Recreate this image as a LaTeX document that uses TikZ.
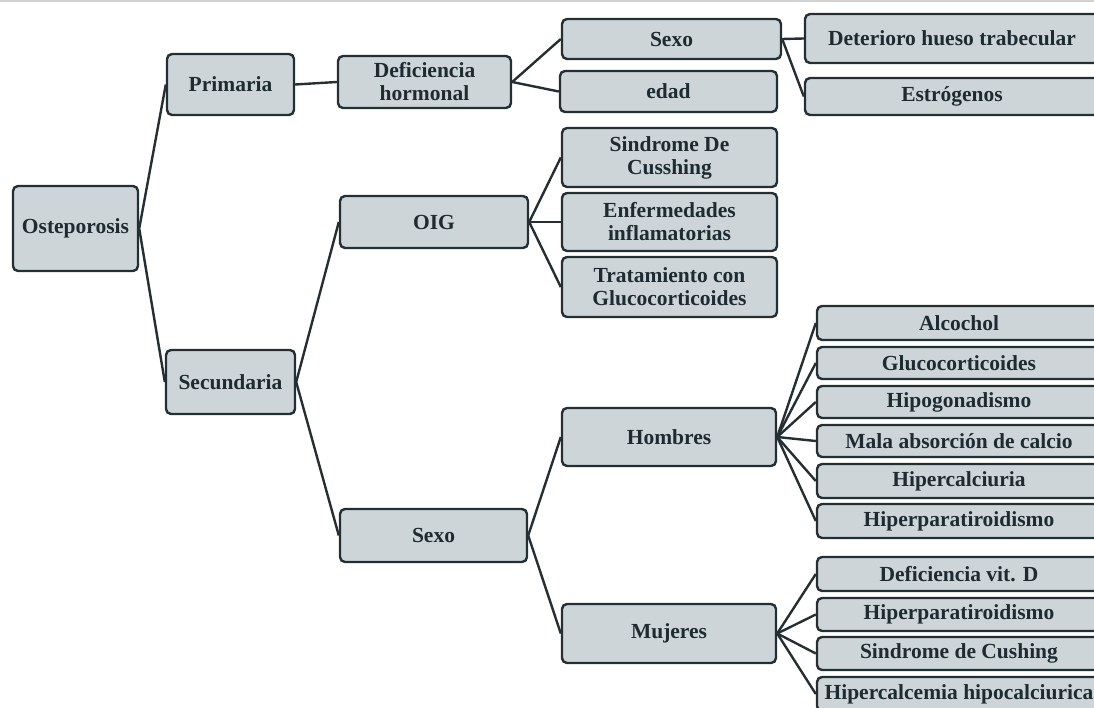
\documentclass[tikz,border=0pt]{standalone}
\usepackage{fontspec}
\setmainfont{Liberation Serif}
\definecolor{boxfill}{RGB}{205,213,216}
\definecolor{boxline}{RGB}{36,47,51}
\definecolor{boxtext}{RGB}{30,43,48}
\begin{document}
\begin{tikzpicture}
  [x=1pt,y=-1pt,
   box/.style={draw=boxline,line width=2.4pt,rounded corners=5pt,fill=boxfill,text=boxtext,
     font=\bfseries\fontsize{21.5}{23}\selectfont,align=center,inner sep=0pt},
   leaf/.style={box,minimum width=284pt,minimum height=34pt}]
  \useasboundingbox (0,0) rectangle (1094,708);
  \clip (0,0) rectangle (1094,708);
  \draw[gray!35,line width=2pt] (0,1) -- (1094,1);

  \node (ost)[box,minimum width=125pt,minimum height=85pt] at (75.5,228.5) {Osteporosis};
  \node (prim)[box,minimum width=127pt,minimum height=61pt] at (230.5,84.5) {Primaria};
  \node (sec)[box,minimum width=129pt,minimum height=64pt] at (230.5,382) {Secundaria};
  \node (defh)[box,minimum width=173pt,minimum height=52pt] at (424.5,82) {Deficiencia\\hormonal};
  \node (oig)[box,minimum width=188pt,minimum height=52pt] at (434,222) {OIG};
  \node (sexb)[box,minimum width=187pt,minimum height=53pt] at (433.5,535.5) {Sexo};
  \node (sexa)[box,minimum width=219pt,minimum height=40pt] at (671.5,39) {Sexo};
  \node (edad)[box,minimum width=217pt,minimum height=41pt] at (668.5,91.5) {edad};
  \node (sind)[box,minimum width=215pt,minimum height=59pt] at (669.5,157.5) {Sindrome De\\Cusshing};
  \node (enf)[box,minimum width=215pt,minimum height=58pt] at (669.5,222) {Enfermedades\\inflamatorias};
  \node (trat)[box,minimum width=215pt,minimum height=60pt] at (669.5,287) {Tratamiento con\\Glucocorticoides};
  \node (homb)[box,minimum width=214pt,minimum height=58pt] at (669,437) {Hombres};
  \node (muj)[box,minimum width=214pt,minimum height=59pt] at (669,633.5) {Mujeres};
  \node (det)[box,minimum width=294pt,minimum height=49pt] at (952,38.5) {Deterioro hueso trabecular};
  \node (estr)[box,minimum width=294pt,minimum height=37pt] at (952,96.5) {Estrógenos};

  \node (h1)[leaf] at (959,323) {Alcochol};
  \node (h2)[leaf,minimum height=32pt] at (959,363) {Glucocorticoides};
  \node (h3)[leaf,minimum height=32pt] at (959,402) {Hipogonadismo};
  \node (h4)[leaf,minimum height=32pt] at (959,441) {Mala absorción de calcio};
  \node (h5)[leaf] at (959,481) {Hipercalciuria};
  \node (h6)[leaf] at (959,521) {Hiperparatiroidismo};
  \node (m1)[leaf] at (959,574) {Deficiencia vit. D};
  \node (m2)[leaf,minimum height=33pt] at (959,614.5) {Hiperparatiroidismo};
  \node (m3)[leaf,minimum height=33pt] at (959,653.5) {Sindrome de Cushing};
  \node (m4)[leaf] at (959,694) {Hipercalcemia hipocalciurica};

  \foreach \from/\to in {ost/prim,ost/sec,prim/defh,defh/sexa,defh/edad,sexa/det,sexa/estr,sec/oig,sec/sexb,oig/sind,oig/enf,oig/trat,sexb/homb,sexb/muj,homb/h1,homb/h2,homb/h3,homb/h4,homb/h5,homb/h6,muj/m1,muj/m2,muj/m3,muj/m4}
    \draw[boxline,line width=2.4pt] (\from.east) -- (\to.west);

\end{tikzpicture}
\end{document}
